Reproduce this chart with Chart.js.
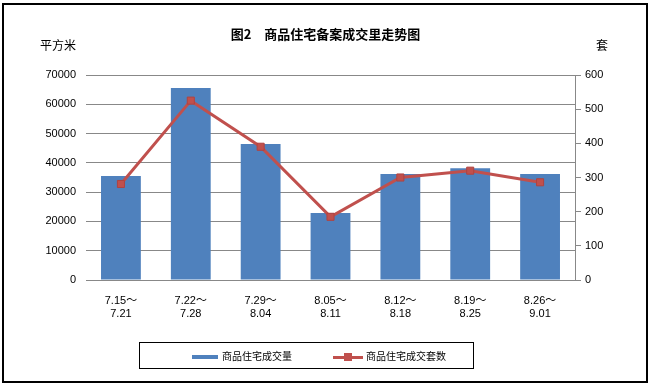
<!DOCTYPE html>
<html>
<head>
<meta charset="utf-8">
<script src="https://cdn.jsdelivr.net/npm/chart.js@4"></script>
<style>
    body { margin: 0; background: #fff; font-family: "Noto Sans CJK SC", sans-serif; }
    #wrap { position: relative; width: 651px; height: 386px; }
    #frame { position: absolute; left: 2px; top: 3px; width: 642px; height: 376px; border: 2px solid #000; pointer-events: none; }
    .txt { position: absolute; font-size: 12px; color: #000; white-space: nowrap; }
    #title { left: 0; width: 651px; top: 24px; text-align: center; font-weight: bold; font-size: 13px; }
    #legend { position: absolute; left: 139px; top: 342px; width: 333px; height: 25px; border: 1px solid #000; font-size: 10px; }
    .item { position: absolute; top: 6px; height: 14px; line-height: 14px; }
    .sw { display: inline-block; vertical-align: middle; }
</style>
</head>
<body>
<div id="wrap">
    <canvas id="graphe" width="651" height="386"></canvas>
    <div id="title" class="txt">图2　商品住宅备案成交里走势图</div>
    <div class="txt" style="left:40px;top:36px;">平方米</div>
    <div class="txt" style="left:596px;top:36px;">套</div>
    <div id="legend">
        <div class="item" style="left:52px;">
            <span class="sw" style="width:26px;height:4px;background:#4F81BD;margin-right:4px;"></span>商品住宅成交量
        </div>
        <div class="item" style="left:193px;">
            <span class="sw" style="position:relative;width:30px;height:3px;background:#C0504D;margin-right:3px;">
                <span style="position:absolute;left:11px;top:-3px;width:8px;height:8px;background:#C0504D;"></span>
            </span>商品住宅成交套数
        </div>
    </div>
    <div id="frame"></div>
</div>
<script>
// donnees
let categories = [["7.15～", "7.21"], ["7.22～", "7.28"], ["7.29～", "8.04"], ["8.05～", "8.11"],
                  ["8.12～", "8.18"], ["8.19～", "8.25"], ["8.26～", "9.01"]];
let surface = [35500, 65600, 46400, 22900, 36200, 38200, 36200];
let nombre = [281, 525, 390, 185, 300, 320, 286];

let police = { family: "'Liberation Sans', 'Noto Sans CJK SC', sans-serif", size: 11 };

let ctx = document.getElementById("graphe");

let graphe = new Chart(ctx, {
    data: {
        labels: categories,
        datasets: [
            {
                type: 'line',
                label: "商品住宅成交套数",
                data: nombre,
                yAxisID: 'y1',
                borderColor: "#C0504D",
                backgroundColor: "#C0504D",
                borderWidth: 3,
                pointStyle: 'rect',
                pointRadius: 5,
                pointBorderColor: "#B04340",
                pointBorderWidth: 1,
                tension: 0,
                order: 1
            },
            {
                type: 'bar',
                label: "商品住宅成交量",
                data: surface,
                yAxisID: 'y',
                backgroundColor: "#4F81BD",
                barPercentage: 0.57,
                categoryPercentage: 1,
                order: 2
            }
        ]
    },
    options: {
        responsive: false,
        animation: false,
        layout: { padding: { top: 75, left: 0, right: 0, bottom: 0 } },
        plugins: { legend: { display: false }, tooltip: { enabled: false } },
        scales: {
            x: {
                grid: { display: false },
                border: { display: false },
                ticks: { color: "#000", font: police, maxRotation: 0, autoSkip: false, padding: 6 },
                afterFit: function(s) { s.height = 106; }
            },
            y: {
                position: 'left',
                min: 0,
                max: 70000,
                ticks: { stepSize: 10000, color: "#000", font: police, padding: 10,
                         callback: function(v) { return String(v); } },
                grid: { color: "#888", drawTicks: false },
                border: { display: false },
                afterFit: function(s) { s.width = 86; }
            },
            y1: {
                position: 'right',
                min: 0,
                max: 600,
                ticks: { stepSize: 100, color: "#000", font: police, padding: 4 },
                grid: { drawOnChartArea: false, color: "#888", tickLength: 6 },
                border: { display: true, color: "#888" },
                afterFit: function(s) { s.width = 76; }
            }
        }
    }
});
</script>
</body>
</html>
